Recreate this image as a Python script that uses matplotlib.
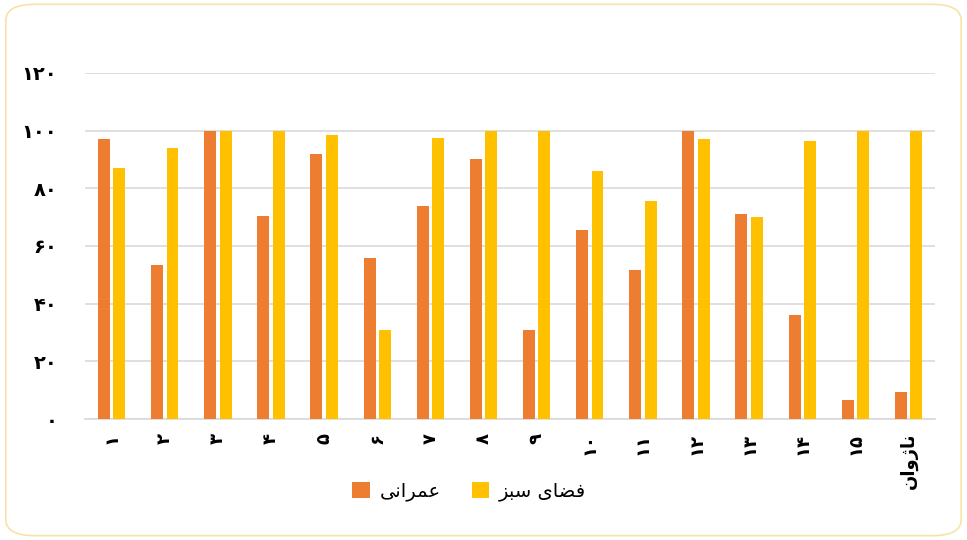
import matplotlib
matplotlib.use("Agg")
import matplotlib.pyplot as plt
from matplotlib.patches import FancyBboxPatch
import numpy as np

# Data (percent)
categories = ["۱", "۲", "۳", "۴", "۵", "۶", "۷", "۸", "۹", "۱۰",
              "۱۱", "۱۲", "۱۳", "۱۴", "۱۵", "ناژوان"]
omrani = [97, 53.5, 100, 70.5, 92, 56, 74, 90, 31, 65.5,
          51.5, 100, 71, 36, 6.5, 9.5]
fazaye_sabz = [87, 94, 100, 100, 98.5, 31, 97.5, 100, 100, 86,
               75.5, 97, 70, 96.5, 100, 100]
series_names = ["عمرانی", "فضای سبز"]
yticks = [0, 20, 40, 60, 80, 100, 120]

# matplotlib has no arabic shaping, so pick presentation forms by hand
FORMS = {
    "ع": "\uFEC9\uFECA\uFECB\uFECC", "م": "\uFEE1\uFEE2\uFEE3\uFEE4",
    "ن": "\uFEE5\uFEE6\uFEE7\uFEE8", "ی": "\uFBFC\uFBFD\uFBFE\uFBFF",
    "ف": "\uFED1\uFED2\uFED3\uFED4", "ض": "\uFEBD\uFEBE\uFEBF\uFEC0",
    "س": "\uFEB1\uFEB2\uFEB3\uFEB4", "ب": "\uFE8F\uFE90\uFE91\uFE92",
    "ر": "\uFEAD\uFEAE", "ا": "\uFE8D\uFE8E", "ز": "\uFEAF\uFEB0",
    "ژ": "\uFB8A\uFB8B", "و": "\uFEED\uFEEE",
}


def fa(text):
    if not any(c in FORMS for c in text):
        return text
    out = []
    for i, c in enumerate(text):
        if c not in FORMS:
            out.append(c)
            continue
        prev = text[i - 1] if i > 0 else ""
        nxt = text[i + 1] if i + 1 < len(text) else ""
        joins_prev = prev in FORMS and len(FORMS[prev]) == 4
        joins_next = len(FORMS[c]) == 4 and nxt in FORMS
        f = FORMS[c]
        if joins_prev and joins_next:
            out.append(f[3])
        elif joins_prev:
            out.append(f[1])
        elif joins_next:
            out.append(f[2])
        else:
            out.append(f[0])
    return "".join(reversed(out))


def fa_num(n):
    return str(n).translate(str.maketrans("0123456789", "۰۱۲۳۴۵۶۷۸۹"))


orange = "#ED7D31"
yellow = "#FFC000"

fig = plt.figure(figsize=(9.67, 5.4), dpi=100)
fig.patches.append(FancyBboxPatch((0.006, 0.008), 0.988, 0.984,
                                  boxstyle="round,pad=0,rounding_size=0.03",
                                  transform=fig.transFigure, facecolor="white",
                                  edgecolor="#F6E3A8", linewidth=1.2, zorder=-1))
ax = fig.add_axes([0.088, 0.224, 0.879, 0.641])
ax.patch.set_alpha(0)

x = np.arange(len(categories))
w = 0.225
ax.bar(x - 0.145, omrani, w, color=orange, label=fa(series_names[0]), zorder=3)
ax.bar(x + 0.145, fazaye_sabz, w, color=yellow, label=fa(series_names[1]), zorder=3)

ax.set_xlim(-0.5, len(categories) - 0.5)
ax.set_ylim(0, 120)
ax.set_yticks(yticks)
ax.set_yticklabels([fa_num(v) for v in yticks], fontsize=14, fontweight="bold",
                   family=["DejaVu Sans"])
ax.set_xticks(x)
ax.set_xticklabels([fa(c) for c in categories], rotation=90, fontsize=13,
                   fontweight="bold", family=["DejaVu Sans"], va="top")
ax.tick_params(axis="both", length=0)
ax.tick_params(axis="y", pad=20)
ax.tick_params(axis="x", pad=10)
ax.yaxis.grid(True, color="#D9D9D9", linewidth=1.2, zorder=0)
for s in ["top", "right", "left"]:
    ax.spines[s].set_visible(False)
ax.spines["bottom"].set_color("#D9D9D9")
ax.spines["bottom"].set_linewidth(1.2)

fig.legend(loc="center", bbox_to_anchor=(0.485, 0.09), ncol=2, frameon=False,
           fontsize=14, handlelength=0.9, handleheight=0.9, columnspacing=1.6,
           handletextpad=0.5)

fig.savefig("out.png", dpi=100)
